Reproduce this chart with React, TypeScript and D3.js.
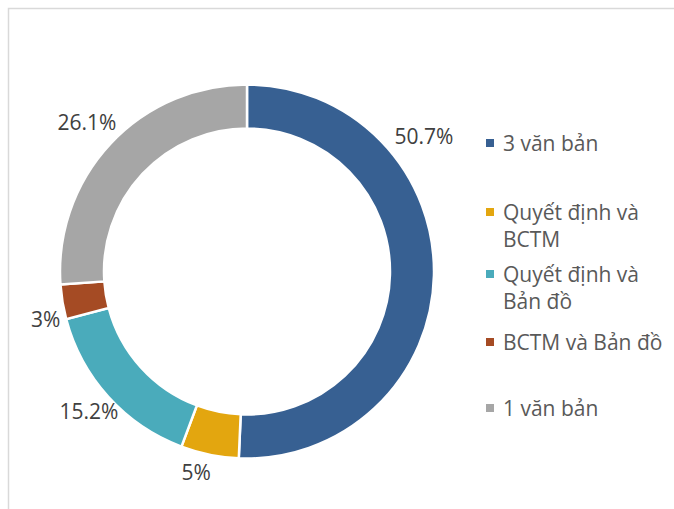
import React from "react";
import * as d3 from "d3";

const categories = ["3 văn bản", "Quyết định và BCTM", "Quyết định và Bản đồ", "BCTM và Bản đồ", "1 văn bản"];
const values = [50.7, 5, 15.2, 3, 26.1];
const valueLabels = ["50.7%", "5%", "15.2%", "3%", "26.1%"];
const legendLines = [["3 văn bản"], ["Quyết định và", "BCTM"], ["Quyết định và", "Bản đồ"], ["BCTM và Bản đồ"], ["1 văn bản"]];
const colors = ["#376092", "#E3A60F", "#4AABBB", "#A54B24", "#A6A6A6"];

// label placement: angle (deg, clockwise from top; null = slice mid angle) and radius
const labelPlacement = [
  { angle: 52.5, r: 223 },
  { angle: 194.2, r: 207 },
  { angle: 228.5, r: 211 },
  { angle: 256.6, r: 207 },
  { angle: null, r: 219 },
];
const legendTops = [143, 212, 274, 342, 408];

const W = 674, H = 509;
const cx = 247, cy = 271.5;
const outerR = 187, innerR = 143;
const FONT = "'Open Sans', sans-serif";

export default function App() {
  const pie = d3.pie<number>().sort(null).value((d) => d);
  const arcs = pie(values);
  const arcGen = d3.arc<d3.PieArcDatum<number>>().innerRadius(innerR).outerRadius(outerR);

  return (
    <svg width={W} height={H} style={{ position: "absolute", left: 0, top: 0, background: "#fff" }}>
      <rect x={8.5} y={8.5} width={W} height={H} fill="#fff" stroke="#D9D9D9" strokeWidth={1.5} />
      <g transform={`translate(${cx},${cy})`}>
        {arcs.map((a, i) => (
          <path key={categories[i]} d={arcGen(a) || ""} fill={colors[i]} stroke="#fff" strokeWidth={2.5} />
        ))}
        {arcs.map((a, i) => {
          const p = labelPlacement[i];
          const ang = p.angle == null ? (a.startAngle + a.endAngle) / 2 : (p.angle * Math.PI) / 180;
          const x = Math.sin(ang) * p.r;
          const y = -Math.cos(ang) * p.r;
          return (
            <text key={"l" + i} x={x} y={y} textAnchor="middle" dominantBaseline="central"
              fontFamily={FONT} fontSize={21} fill="#404040">{valueLabels[i]}</text>
          );
        })}
      </g>
      {legendLines.map((lines, i) => (
        <g key={"lg" + i}>
          <rect x={486} y={legendTops[i] - 4} width={8} height={8} fill={colors[i]} />
          {lines.map((t, j) => (
            <text key={j} x={503} y={legendTops[i] + j * 27} dominantBaseline="central"
              fontFamily={FONT} fontSize={21} fill="#595959">{t}</text>
          ))}
        </g>
      ))}
    </svg>
  );
}
